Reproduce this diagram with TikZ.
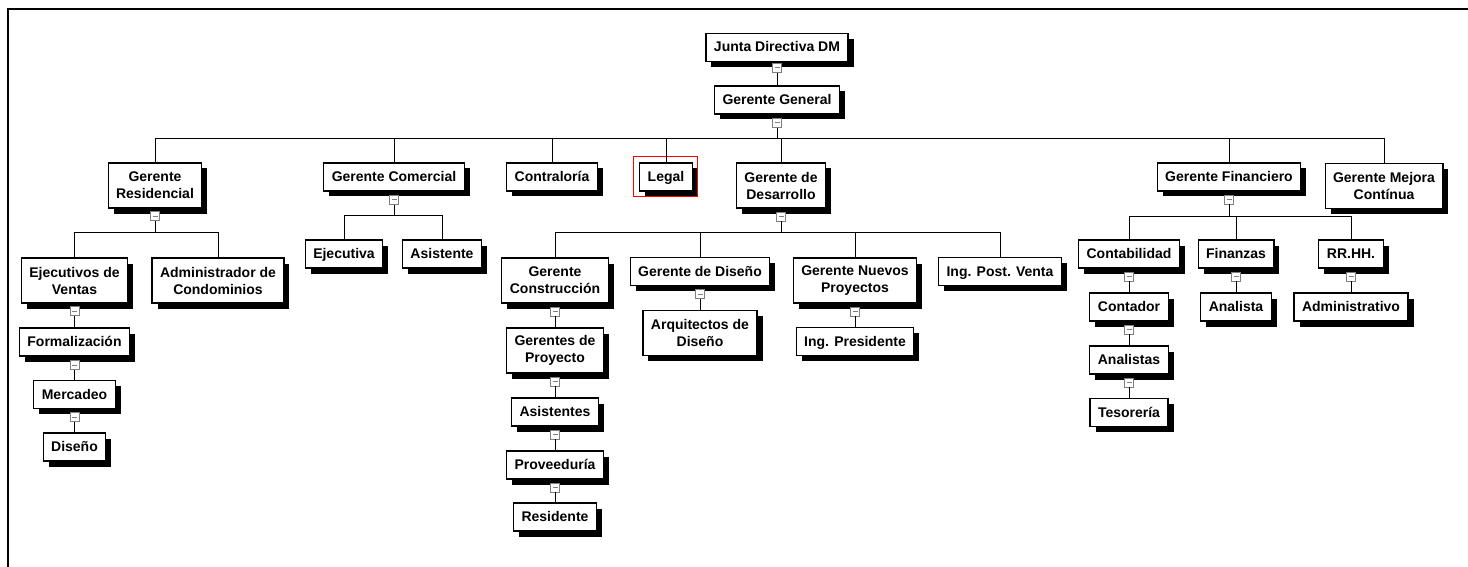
\documentclass[tikz,border=0pt]{standalone}
\usepackage{fontspec}
\setmainfont{Liberation Sans}
\usetikzlibrary{shadows}

\begin{document}
\begin{tikzpicture}[x=1pt, y=-1pt,
        box/.style={draw, fill=white, line width=1.1pt, font=\bfseries\fontsize{14}{17}\selectfont, align=center, inner xsep=8pt, inner ysep=0pt, drop shadow={shadow xshift=5.5pt, shadow yshift=-5.5pt, fill=black, opacity=1}},
        unit/.style={box, text height=10pt, text depth=1pt, minimum height=28pt},
        unit2/.style={box, minimum height=45pt},
        toggle/.style={draw=gray, fill=white, line width=0.7pt, minimum size=9pt, inner sep=0pt, path picture={\draw[line width=1pt] ([xshift=-2.5pt]path picture bounding box.center) -- ([xshift=2.5pt]path picture bounding box.center);}},
        link/.style={line width=0.9pt}
    ]
        \useasboundingbox (0,0) rectangle (1468,567);

        % Frame
        \draw[line width=2pt] (8,567) -- (8,9) -- (1468,9);

        % Top level
        \node[unit] (junta) at (777,47.5) {Junta Directiva DM};
        \node[toggle] (tjunta) at (777,68) {};
        \node[unit] (general) at (777,100) {Gerente General};
        \node[toggle] (tgeneral) at (777,123) {};
        \coordinate (bgeneral) at (777,138);

        % Gerencias
        \node[unit2] (resid) at (155,185.5) {Gerente\\Residencial};
        \node[unit] (comer) at (394,177) {Gerente Comercial};
        \node[unit] (contra) at (552,177) {Contraloría};
        \node[unit] (legal) at (666,177) {Legal};
        \node[unit2] (desa) at (781,185.5) {Gerente de\\Desarrollo};
        \node[unit] (finan) at (1229,177) {Gerente Financiero};
        \node[unit2] (mejora) at (1384,186) {Gerente Mejora\\Contínua};

        \draw[red, line width=1pt] ([shift={(-6,-6)}]legal.north west) rectangle ([shift={(5,5)}]legal.south east);

        % Residencial
        \node[toggle] (tresid) at (155,216) {};
        \coordinate (bresid) at (155,232);
        \node[unit2] (ejec) at (74.5,280.5) {Ejecutivos de\\Ventas};
        \node[unit2] (admin) at (218,280.5) {Administrador de\\Condominios};
        \node[toggle] (tejec) at (74.5,311) {};
        \node[unit] (formal) at (74.5,342) {Formalización};
        \node[toggle] (tformal) at (74.5,365) {};
        \node[unit] (merca) at (74.5,394.5) {Mercadeo};
        \node[toggle] (tmerca) at (74.5,417) {};
        \node[unit] (diseno) at (74.5,447) {Diseño};

        % Comercial
        \node[toggle] (tcomer) at (394,200) {};
        \coordinate (bcomer) at (394,215);
        \node[unit] (ejecutiva) at (344,254) {Ejecutiva};
        \node[unit] (asist) at (442,254) {Asistente};

        % Desarrollo
        \node[toggle] (tdesa) at (781,216.5) {};
        \coordinate (bdesa) at (781,232);
        \node[unit2] (gcons) at (555,280.5) {Gerente\\Construcción};
        \node[unit] (gdis) at (700,271.5) {Gerente de Diseño};
        \node[unit2] (gnuevos) at (855,280.5) {Gerente Nuevos\\Proyectos};
        \node[unit] (postventa) at (1000,271.5) {Ing. Post. Venta};
        \node[toggle] (tgcons) at (555,311.5) {};
        \node[unit2] (gproy) at (555,350.5) {Gerentes de\\Proyecto};
        \node[toggle] (tgproy) at (555,381.5) {};
        \node[unit] (asistentes) at (555,412) {Asistentes};
        \node[toggle] (tasist) at (555,434.5) {};
        \node[unit] (provee) at (555,465) {Proveeduría};
        \node[toggle] (tprovee) at (555,487.5) {};
        \node[unit] (reside) at (555,517) {Residente};
        \node[toggle] (tgdis) at (700,294) {};
        \node[unit2] (arqui) at (700,333) {Arquitectos de\\Diseño};
        \node[toggle] (tgnuevos) at (855,311.5) {};
        \node[unit] (ingpres) at (855,341.5) {Ing. Presidente};

        % Financiero
        \node[toggle] (tfinan) at (1229,199.5) {};
        \coordinate (bfinan) at (1229,216);
        \node[unit] (conta) at (1129,254) {Contabilidad};
        \node[unit] (finanzas) at (1236,254) {Finanzas};
        \node[unit] (rrhh) at (1351,254) {RR.HH.};
        \node[toggle] (tconta) at (1129,276.5) {};
        \node[unit] (contador) at (1129,307) {Contador};
        \node[toggle] (tcontador) at (1129,329.5) {};
        \node[unit] (analistas) at (1129,360) {Analistas};
        \node[toggle] (tanalistas) at (1129,382.5) {};
        \node[unit] (tesor) at (1129,412.5) {Tesorería};
        \node[toggle] (tfinanzas) at (1236,276.5) {};
        \node[unit] (analista) at (1236,307) {Analista};
        \node[toggle] (trrhh) at (1351,276.5) {};
        \node[unit] (admvo) at (1351,307) {Administrativo};

        % Lines
        \draw[link] (junta) -- (tjunta) -- (general) -- (tgeneral) -- (bgeneral);
        \draw[link] (bgeneral) -| (resid);
        \draw[link] (bgeneral) -| (comer);
        \draw[link] (bgeneral) -| (contra);
        \draw[link] (bgeneral) -| (legal);
        \draw[link] (bgeneral) -| (desa);
        \draw[link] (bgeneral) -| (finan);
        \draw[link] (bgeneral) -| (mejora);

        \draw[link] (resid) -- (tresid) -- (bresid);
        \draw[link] (bresid) -| (ejec);
        \draw[link] (bresid) -| (admin);
        \draw[link] (ejec) -- (tejec) -- (formal) -- (tformal) -- (merca) -- (tmerca) -- (diseno);

        \draw[link] (comer) -- (tcomer) -- (bcomer);
        \draw[link] (bcomer) -| (ejecutiva);
        \draw[link] (bcomer) -| (asist);

        \draw[link] (desa) -- (tdesa) -- (bdesa);
        \draw[link] (bdesa) -| (gcons);
        \draw[link] (bdesa) -| (gdis);
        \draw[link] (bdesa) -| (gnuevos);
        \draw[link] (bdesa) -| (postventa);
        \draw[link] (gcons) -- (tgcons) -- (gproy) -- (tgproy) -- (asistentes) -- (tasist) -- (provee) -- (tprovee) -- (reside);
        \draw[link] (gdis) -- (tgdis) -- (arqui);
        \draw[link] (gnuevos) -- (tgnuevos) -- (ingpres);

        \draw[link] (finan) -- (tfinan) -- (bfinan);
        \draw[link] (bfinan) -| (conta);
        \draw[link] (bfinan) -| (finanzas);
        \draw[link] (bfinan) -| (rrhh);
        \draw[link] (conta) -- (tconta) -- (contador) -- (tcontador) -- (analistas) -- (tanalistas) -- (tesor);
        \draw[link] (finanzas) -- (tfinanzas) -- (analista);
        \draw[link] (rrhh) -- (trrhh) -- (admvo);

    \end{tikzpicture}
\end{document}
